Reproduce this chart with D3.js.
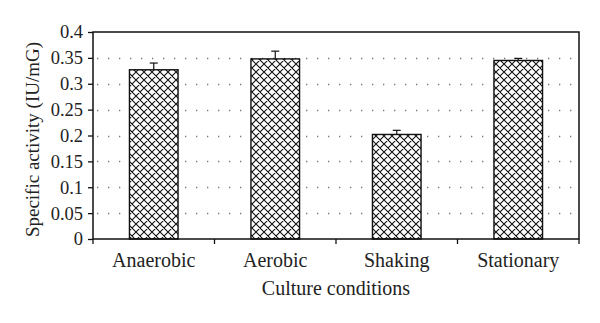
<!DOCTYPE html>
<html>
<head>
<meta charset="utf-8">
<script src="https://cdn.jsdelivr.net/npm/d3@7"></script>
<style>
    body { margin: 0; background: #fff; }
    svg text { font-family: "Liberation Serif", "DejaVu Serif", serif; fill: #222; }
</style>
</head>
<body>
<script>
const categories = ['Anaerobic', 'Aerobic', 'Shaking', 'Stationary'];
const activity = [0.327, 0.348, 0.202, 0.345];
const errors = [0.013, 0.015, 0.008, 0.004];
const yTicks = [0, 0.05, 0.1, 0.15, 0.2, 0.25, 0.3, 0.35, 0.4];

const width = 600;
const height = 323;
const margin = {top: 32, right: 21, bottom: 84, left: 93};

const svg = d3.select('body')
    .append('svg')
    .attr('width', width)
    .attr('height', height);

// diamond cross-hatch fill
const pattern = svg.append('defs')
    .append('pattern')
    .attr('id', 'hatch')
    .attr('patternUnits', 'userSpaceOnUse')
    .attr('width', 8)
    .attr('height', 8);
pattern.append('rect').attr('width', 8).attr('height', 8).attr('fill', '#fff');
pattern.append('path')
    .attr('d', 'M0,0 L8,8 M8,0 L0,8 M-1,7 L1,9 M7,-1 L9,1 M-1,1 L1,-1 M7,9 L9,7')
    .attr('stroke', '#111')
    .attr('stroke-width', 1.1);

const x = d3.scaleBand()
    .domain(categories)
    .range([margin.left, width - margin.right])
    .paddingInner(0.6)
    .paddingOuter(0.3);

const y = d3.scaleLinear()
    .domain([0, 0.4])
    .range([height - margin.bottom, margin.top]);

// dotted gridlines
svg.append('g')
    .selectAll('line')
    .data(yTicks.filter(d => d > 0 && d < 0.4))
    .join('line')
    .attr('x1', margin.left + 4)
    .attr('x2', width - margin.right)
    .attr('y1', d => Math.round(y(d)) + 0.5)
    .attr('y2', d => Math.round(y(d)) + 0.5)
    .attr('stroke', '#777')
    .attr('stroke-width', 1.3)
    .attr('stroke-dasharray', '1.3,9.7');

// bars
svg.append('g')
    .selectAll('rect')
    .data(categories)
    .join('rect')
    .attr('x', d => x(d))
    .attr('y', (d, i) => y(activity[i]))
    .attr('width', x.bandwidth())
    .attr('height', (d, i) => y(0) - y(activity[i]))
    .attr('fill', 'url(#hatch)')
    .attr('stroke', '#111')
    .attr('stroke-width', 1.4);

// error bars
const err = svg.append('g')
    .attr('stroke', '#111')
    .attr('stroke-width', 1.2);
categories.forEach((c, i) =>
{
    const cx = x(c) + x.bandwidth() / 2;
    err.append('line')
        .attr('x1', cx).attr('x2', cx)
        .attr('y1', y(activity[i])).attr('y2', y(activity[i] + errors[i]));
    err.append('line')
        .attr('x1', cx - 4).attr('x2', cx + 4)
        .attr('y1', y(activity[i] + errors[i])).attr('y2', y(activity[i] + errors[i]));
});

// frame
svg.append('rect')
    .attr('x', margin.left)
    .attr('y', margin.top)
    .attr('width', width - margin.left - margin.right)
    .attr('height', height - margin.top - margin.bottom)
    .attr('fill', 'none')
    .attr('stroke', '#111')
    .attr('stroke-width', 1.5);

// y axis
const yAxis = svg.append('g')
    .attr('transform', `translate(${margin.left},0)`)
    .call(d3.axisLeft(y).tickValues(yTicks).tickFormat(d => d3.format('')(+d.toFixed(2))).tickSize(5).tickPadding(5));
yAxis.select('.domain').remove();
yAxis.selectAll('.tick line').attr('stroke', '#111').attr('stroke-width', 1.3);
yAxis.selectAll('.tick text').attr('font-size', 18.5).attr('fill', '#222')
    .attr('font-family', '"Liberation Serif", serif');

// x axis: ticks on category boundaries
const bottom = height - margin.bottom;
const boundaries = d3.range(categories.length + 1).map(i => margin.left + i * (width - margin.left - margin.right) / categories.length);
svg.append('g')
    .selectAll('line')
    .data(boundaries)
    .join('line')
    .attr('x1', d => d).attr('x2', d => d)
    .attr('y1', bottom).attr('y2', bottom + 5)
    .attr('stroke', '#111')
    .attr('stroke-width', 1.3);

svg.append('g')
    .selectAll('text')
    .data(categories)
    .join('text')
    .attr('x', d => x(d) + x.bandwidth() / 2)
    .attr('y', bottom + 28)
    .attr('text-anchor', 'middle')
    .attr('font-size', 20)
    .text(d => d);

svg.append('text')
    .attr('x', (margin.left + width - margin.right) / 2)
    .attr('y', bottom + 56)
    .attr('text-anchor', 'middle')
    .attr('font-size', 20)
    .text('Culture conditions');

svg.append('text')
    .attr('transform', `translate(39,${(margin.top + bottom) / 2 + 4}) rotate(-90)`)
    .attr('text-anchor', 'middle')
    .attr('font-size', 19)
    .text('Specific activity (IU/mG)');
</script>
</body>
</html>
